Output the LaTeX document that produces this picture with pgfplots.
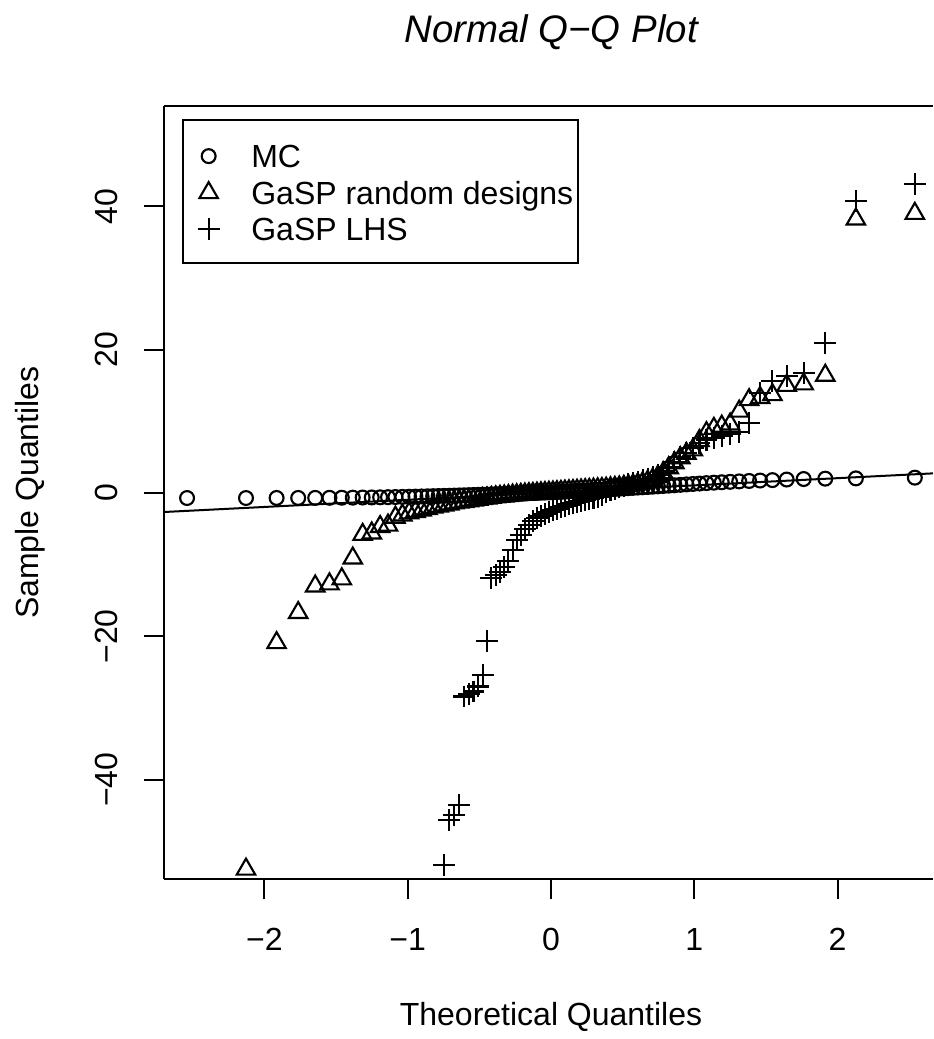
\documentclass[border=0pt]{standalone}
\usepackage{fontspec}
\setmainfont{Liberation Sans}
\usepackage{pgfplots}
\usepackage{pgfplotstable}
\pgfplotsset{compat=1.18}

\pgfplotstableread{
q mc rd lhs
-2.5392 -0.70 nan nan
-2.1279 -0.70 -52.5 nan
-1.9144 -0.69 -20.9 nan
-1.7636 -0.69 -16.7 nan
-1.6449 -0.68 -13.0 nan
-1.5455 -0.67 -12.7 nan
-1.4594 -0.66 -12.0 nan
-1.3828 -0.65 -9.1 nan
-1.3138 -0.63 -5.8 nan
-1.2505 -0.62 -5.6 nan
-1.1918 -0.60 -4.7 nan
-1.1369 -0.58 -4.5 nan
-1.0852 -0.56 -3.4 nan
-1.0364 -0.54 -3.1 nan
-0.9899 -0.52 -2.8 nan
-0.9454 -0.50 -2.6 nan
-0.9027 -0.48 -2.4 nan
-0.8616 -0.46 -2.2 nan
-0.8217 -0.44 -2.0 nan
-0.7834 -0.42 -1.85 nan
-0.7462 -0.40 -1.7 -51.9
-0.7098 -0.38 -1.55 -45.6
-0.6745 -0.36 -1.4 -44.9
-0.6399 -0.34 -1.3 -43.5
-0.6061 -0.32 -1.2 -28.4
-0.5728 -0.30 -1.1 -28.1
-0.5404 -0.28 -1.0 -27.7
-0.5085 -0.26 -0.9 -27.0
-0.4769 -0.24 -0.8 -25.4
-0.4461 -0.22 -0.72 -20.7
-0.4155 -0.20 -0.64 -11.9
-0.3853 -0.18 -0.56 -11.5
-0.3555 -0.16 -0.50 -11.0
-0.3259 -0.14 -0.44 -10.3
-0.2967 -0.12 -0.38 -9.5
-0.2677 -0.10 -0.32 -8.0
-0.2390 -0.08 -0.27 -6.6
-0.2104 -0.06 -0.22 -5.8
-0.1820 -0.04 -0.17 -5.0
-0.1538 -0.02 -0.12 -4.5
-0.1257 0.00 -0.08 -3.9
-0.0976 0.02 -0.04 -3.5
-0.0697 0.04 0.00 -3.2
-0.0418 0.06 0.04 -2.9
-0.0139 0.08 0.08 -2.6
0.0139 0.10 0.12 -2.4
0.0418 0.13 0.16 -2.2
0.0697 0.16 0.20 -2.0
0.0976 0.19 0.24 -1.8
0.1257 0.22 0.28 -1.6
0.1538 0.25 0.32 -1.45
0.1820 0.28 0.36 -1.3
0.2104 0.31 0.40 -1.15
0.2390 0.34 0.44 -1.0
0.2677 0.37 0.48 -0.85
0.2967 0.40 0.52 -0.7
0.3259 0.43 0.56 -0.5
0.3555 0.46 0.60 -0.3
0.3853 0.49 0.65 0.1
0.4155 0.52 0.70 0.4
0.4461 0.56 0.76 0.6
0.4769 0.60 0.82 0.8
0.5085 0.64 0.90 1.0
0.5404 0.68 1.0 1.2
0.5728 0.72 1.1 1.4
0.6061 0.76 1.25 1.6
0.6399 0.80 1.4 1.8
0.6745 0.84 1.6 2.0
0.7098 0.88 1.9 2.2
0.7462 0.93 2.3 2.5
0.7834 0.98 2.8 3.0
0.8217 1.03 3.5 3.6
0.8616 1.08 4.2 4.3
0.9027 1.14 4.9 5.0
0.9454 1.20 5.5 5.6
0.9899 1.26 6.0 6.3
1.0364 1.32 7.3 7.0
1.0852 1.38 8.4 7.4
1.1369 1.44 9.0 7.7
1.1918 1.50 9.3 7.9
1.2505 1.56 9.6 8.2
1.3138 1.62 11.4 8.5
1.3828 1.68 13.0 9.8
1.4594 1.74 13.3 14.0
1.5455 1.80 13.7 15.6
1.6449 1.88 15.0 16.3
1.7636 1.95 15.2 16.7
1.9144 2.00 16.4 20.9
2.1279 2.04 38.2 40.7
2.5392 2.14 39.0 43.1
}\qqdata

\begin{document}
\fontsize{12}{14.4}\selectfont
\begin{tikzpicture}
\begin{axis}[
  name=ax,
  at={(61.61pt,59.89pt)}, anchor=south west,
  scale only axis, width=288.26pt, height=289.99pt,
  xmin=-2.698, xmax=2.666, ymin=-53.9, ymax=54.0,
  axis x line*=bottom, axis y line*=left,
  axis line style={line width=0.75pt, black},
  xtick={-2,-1,0,1,2}, xticklabels={−2,−1,0,1,2},
  ytick={-40,-20,0,20,40}, yticklabels={−40,−20,0,20,40},
  tick align=outside, major tick length=7.5pt,
  tick style={line width=0.75pt, black},
  tick label style={font=\fontsize{12}{14.4}\selectfont, inner sep=0pt},
  xticklabel style={anchor=north, yshift=-10.76pt},
  yticklabel style={xshift=-9.75pt, rotate=90, anchor=south},
  font=\fontsize{12}{14.4}\selectfont,
  title={Normal Q−Q Plot},
  title style={at={(axis description cs:0.5031,1.0853)}, anchor=base, yshift=-6.75pt, inner sep=0pt, font=\fontsize{14.4}{17}\selectfont\itshape},
  xlabel={Theoretical Quantiles},
  xlabel style={at={(axis description cs:0.5031,-0.1897)}, anchor=base, inner sep=0pt},
  ylabel={Sample Quantiles},
  ylabel style={at={(axis description cs:-0.1639,0.5)}, anchor=base, inner sep=0pt},
  legend style={at={(axis description cs:0.02264,0.9828)}, anchor=north west, draw=black, line width=0.75pt, inner xsep=1.76pt, inner ysep=6.1pt, row sep=0pt, column sep=8.02pt, font=\fontsize{12}{14.4}\selectfont, cells={anchor=base west}, nodes={inner sep=0pt, text height=11.64pt, text depth=2.1pt}},
  legend image code/.code={\path (-7.6pt,0pt) (7.6pt,0pt); \draw[#1] plot coordinates {(0pt,4.3pt)};},
]
\addplot[black, only marks, mark=o, mark size=2.6pt, mark options={line width=0.8pt}] table[x=q,y=mc]{\qqdata};
\addlegendentry{MC}
\addplot[black, forget plot, line width=0.75pt, no marks] coordinates {(-2.698,-2.65) (2.666,2.74)};
\addplot[black, only marks, mark=triangle, mark size=4.0pt, mark options={line width=0.8pt}] table[x=q,y=rd]{\qqdata};
\addlegendentry{GaSP random designs}
\addplot[black, only marks, mark=+, mark size=4.1pt, mark options={line width=0.8pt}] table[x=q,y=lhs]{\qqdata};
\addlegendentry{GaSP LHS}
\end{axis}
\draw[line width=0.75pt] (ax.north west) -- (ax.north east);
\pgfresetboundingbox
\useasboundingbox (0,0) rectangle (349.875pt,389.625pt);
\end{tikzpicture}
\end{document}
